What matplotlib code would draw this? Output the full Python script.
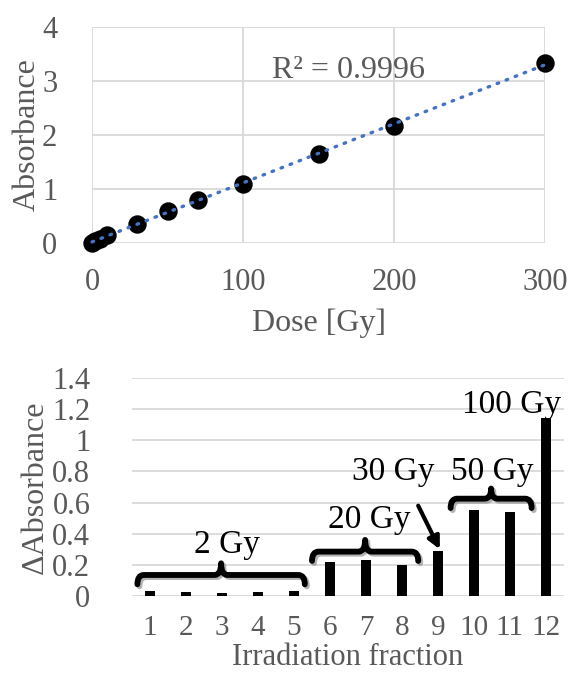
import matplotlib
matplotlib.use("Agg")
import matplotlib.pyplot as plt
import matplotlib.patheffects as pe
from matplotlib.path import Path
from matplotlib.patches import PathPatch
import numpy as np

plt.rcParams['font.family'] = ['Liberation Serif', 'DejaVu Serif']

# calibration data (top)
dose = [0, 2, 5, 10, 30, 50, 70, 100, 150, 200, 300]
absorbance = [0.0, 0.04, 0.08, 0.15, 0.35, 0.59, 0.80, 1.09, 1.65, 2.17, 3.33]
r2_text = "R\u00b2 = 0.9996"

# fractions (bottom)
fractions = list(range(1, 13))
delta_abs = [0.034, 0.025, 0.02, 0.025, 0.03, 0.22, 0.23, 0.20, 0.29, 0.55, 0.54, 1.14]

gray = '#595959'
grid = '#D9D9D9'

fig = plt.figure(figsize=(5.69, 6.74), dpi=100)

# ---- top: calibration curve
ax1 = fig.add_axes([92/569, 1-243/674, (545-92)/569, (243-27)/674])
ax1.scatter(dose, absorbance, s=150, color='black', zorder=3, clip_on=False)
k, b = np.polyfit(dose, absorbance, 1)
xx = np.array([0, 300])
ax1.plot(xx, k*xx + b, color='#4472C4', lw=2.4, linestyle=(0, (0.5, 2.4)),
         dash_capstyle='round', zorder=4, clip_on=False)
ax1.set_xlim(0, 300)
ax1.set_ylim(0, 4)
ax1.set_xticks([0, 100, 200, 300])
ax1.set_yticks([0, 1, 2, 3, 4])
ax1.grid(True, color=grid, lw=1.3)
ax1.set_axisbelow(True)
for s in ax1.spines.values():
    s.set_visible(False)
ax1.tick_params(length=0, labelsize=22, colors=gray, pad=25)
ax1.tick_params(axis='x', pad=18)
ax1.set_xlabel("Dose [Gy]", fontsize=23, color=gray, labelpad=8)
ax1.set_ylabel("Absorbance", fontsize=23, color=gray, labelpad=0)
ax1.text(170, 3.2, r2_text, fontsize=23, color=gray, ha='center', va='center')

# ---- bottom: delta absorbance per fraction
ax2 = fig.add_axes([132/569, 1-596/674, (564-132)/569, (596-378)/674])
ax2.bar(fractions, delta_abs, width=0.3, color='black', zorder=3)
ax2.set_xlim(0.5, 12.5)
ax2.set_ylim(0, 1.4)
ax2.set_xticks(fractions)
yt = np.arange(0, 1.41, 0.2)
ax2.set_yticks(yt)
ax2.set_yticklabels([f"{v:g}" for v in np.round(yt, 1)])
ax2.yaxis.grid(True, color=grid, lw=1.3)
ax2.set_axisbelow(True)
for s in ax2.spines.values():
    s.set_visible(False)
ax2.tick_params(length=0, labelsize=22, colors=gray, pad=30)
ax2.tick_params(axis='x', pad=14, labelsize=21)
ax2.set_xlabel("Irradiation fraction", fontsize=22, color=gray, labelpad=1)
ax2.set_ylabel("\u0394Absorbance", fontsize=23, color=gray, labelpad=2)


def brace(ax, x0, x1, y, depth=0.06, bump=0.075, r=0.18):
    xm = (x0 + x1) / 2
    verts = [(x0, y - depth), (x0, y), (x0 + r, y),
             (xm - r, y), (xm, y), (xm, y + bump),
             (xm, y), (xm + r, y),
             (x1 - r, y), (x1, y), (x1, y - depth)]
    codes = [Path.MOVETO, Path.CURVE3, Path.CURVE3,
             Path.LINETO, Path.CURVE3, Path.CURVE3,
             Path.CURVE3, Path.CURVE3,
             Path.LINETO, Path.CURVE3, Path.CURVE3]
    p = PathPatch(Path(verts, codes), fill=False, lw=4.2, edgecolor='black',
                  capstyle='round', joinstyle='round', zorder=5,
                  path_effects=[pe.SimpleLineShadow(offset=(1.5, -1.5), shadow_color='gray', alpha=0.6),
                                pe.Normal()])
    ax.add_patch(p)


brace(ax2, 0.65, 5.3, 0.135)
brace(ax2, 5.5, 8.45, 0.285)
brace(ax2, 9.35, 11.6, 0.625, bump=0.065)

lab = dict(fontsize=24, color='black', ha='center', va='center', zorder=6)
ax2.text(3.15, 0.33, "2 Gy", **lab)
ax2.text(7.1, 0.49, "20 Gy", **lab)
ax2.text(7.75, 0.80, "30 Gy", **lab)
ax2.text(10.5, 0.80, "50 Gy", **lab)
ax2.text(11.05, 1.23, "100 Gy", **lab)
ax2.annotate("", xy=(9.05, 0.30), xytext=(8.45, 0.58),
             arrowprops=dict(arrowstyle='-|>', lw=3, color='black', mutation_scale=18,
                             shrinkA=0, shrinkB=0), zorder=6)

fig.savefig("out.png", dpi=100)
